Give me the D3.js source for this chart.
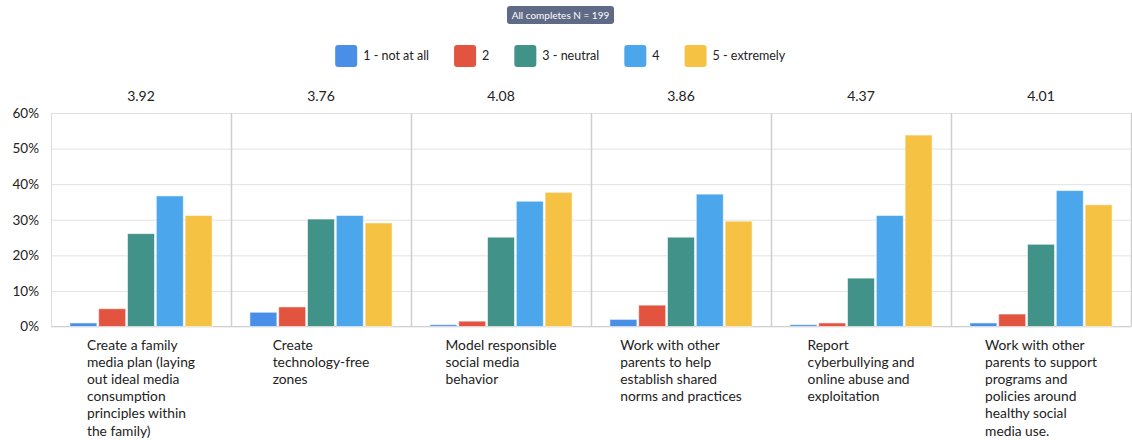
<!DOCTYPE html>
<html>
<head>
<meta charset="utf-8">
<script src="https://cdn.jsdelivr.net/npm/d3@7"></script>
<style>
  body { margin: 0; background: #fff; }
  text { font-family: Lato, "Open Sans", sans-serif; fill: #222; }
</style>
</head>
<body>
<div id="chart"></div>
<script>
// chart data
const categories = [
  "Create a family\nmedia plan (laying\nout ideal media\nconsumption\nprinciples within\nthe family)",
  "Create\ntechnology-free\nzones",
  "Model responsible\nsocial media\nbehavior",
  "Work with other\nparents to help\nestablish shared\nnorms and practices",
  "Report\ncyberbullying and\nonline abuse and\nexploitation",
  "Work with other\nparents to support\nprograms and\npolicies around\nhealthy social\nmedia use."
];
const seriesNames = ["1 - not at all", "2", "3 - neutral", "4", "5 - extremely"];
const seriesColors = ["#4a8fe7", "#e25440", "#41938a", "#4ba6ec", "#f5c243"];
// percent of respondents per category, one array per series
const notAtAll = [1.0, 4.0, 0.5, 2.0, 0.5, 1.0];
const two      = [5.0, 5.5, 1.5, 6.0, 1.0, 3.5];
const neutral  = [26.1, 30.2, 25.1, 25.1, 13.6, 23.1];
const four     = [36.7, 31.2, 35.2, 37.2, 31.2, 38.2];
const extremely = [31.2, 29.1, 37.7, 29.6, 53.8, 34.2];
const means = ["3.92", "3.76", "4.08", "3.86", "4.37", "4.01"];
const yTicks = [0, 10, 20, 30, 40, 50, 60];
const badgeText = "All completes N = 199";

const seriesValues = [notAtAll, two, neutral, four, extremely];

const width = 1132;
const height = 440;
const margin = { top: 113, right: 1, bottom: 113, left: 51 };

const svg = d3.select("#chart").append("svg")
  .attr("width", width)
  .attr("height", height);

const x0 = d3.scaleBand()
  .domain(d3.range(categories.length))
  .range([margin.left, width - margin.right])
  .padding(0);

const x1 = d3.scaleBand()
  .domain(d3.range(seriesNames.length))
  .range([0, x0.bandwidth()])
  .paddingInner(0.0625)
  .paddingOuter(0.656);

const y = d3.scaleLinear()
  .domain([0, 60])
  .range([height - margin.bottom - 0.5, margin.top]);

// gridlines
svg.append("g")
  .attr("transform", `translate(${margin.left},0)`)
  .call(d3.axisLeft(y).tickValues(yTicks).tickSize(-(width - margin.left - margin.right)).tickFormat(""))
  .call(g => g.select(".domain").remove())
  .call(g => g.selectAll("line").attr("stroke", "#e2e2e2"));

// y labels
svg.append("g")
  .attr("transform", `translate(${margin.left - 9},0)`)
  .call(d3.axisLeft(y).tickValues(yTicks).tickSize(0).tickFormat(d => d + "%"))
  .call(g => g.select(".domain").remove())
  .call(g => g.selectAll("text").attr("font-size", 13.5).attr("fill", "#333"));

// group separators
const bounds = categories.map((c, i) => x0(i)).concat([width - margin.right]);
svg.append("g").selectAll("line")
  .data(bounds)
  .enter().append("line")
  .attr("x1", d => Math.round(d) + 0.5)
  .attr("x2", d => Math.round(d) + 0.5)
  .attr("y1", y(60))
  .attr("y2", y(0))
  .attr("stroke", (d, i) => i === 0 ? "#dcdcdc" : "#cfcfcf")
  .attr("stroke-width", (d, i) => i === 0 ? 1 : 1.5);

// baseline
svg.append("line")
  .attr("x1", margin.left)
  .attr("x2", width - margin.right)
  .attr("y1", y(0))
  .attr("y2", y(0))
  .attr("stroke", "#cfcfcf");

// bars
const groups = svg.append("g").selectAll("g")
  .data(categories)
  .enter().append("g")
  .attr("transform", (d, i) => `translate(${x0(i)},0)`);

groups.selectAll("rect")
  .data((d, i) => seriesValues.map((vals, s) => ({ s: s, v: vals[i] })))
  .enter().append("rect")
  .attr("x", d => x1(d.s))
  .attr("width", x1.bandwidth())
  .attr("y", d => y(d.v))
  .attr("height", d => y(0) - y(d.v))
  .attr("fill", d => seriesColors[d.s])
  .attr("stroke", "#fff")
  .attr("stroke-opacity", 0.55)
  .attr("stroke-width", 1);

// means above groups
svg.append("g").selectAll("text")
  .data(means)
  .enter().append("text")
  .attr("x", (d, i) => x0(i) + x0.bandwidth() / 2)
  .attr("y", 101)
  .attr("text-anchor", "middle")
  .attr("font-size", 14)
  .text(d => d);

// category labels, centered block with left-aligned lines
groups.each(function (d, i) {
  const lines = d.split("\n");
  const t = d3.select(this).append("text")
    .attr("font-size", 13.8)
    .attr("fill", "#222");
  lines.forEach((ln, k) => {
    t.append("tspan")
      .attr("x", 0)
      .attr("y", 349.5 + k * 17.2)
      .text(ln);
  });
  const w = t.node().getBBox().width;
  t.attr("transform", `translate(${x0.bandwidth() / 2 - w / 2},0)`);
});

// legend
const legend = svg.append("g");
const items = legend.selectAll("g")
  .data(seriesNames)
  .enter().append("g");
items.append("rect")
  .attr("width", 22)
  .attr("height", 22)
  .attr("rx", 3)
  .attr("y", 45)
  .attr("fill", (d, i) => seriesColors[i]);
items.append("text")
  .attr("x", 28)
  .attr("y", 60)
  .attr("font-size", 12.5)
  .text(d => d);
const gap = 25;
let lx = 0;
items.each(function () {
  const w = this.getBBox().width;
  d3.select(this).attr("transform", `translate(${lx},0)`);
  lx += w + gap;
});
const legendW = lx - gap;
legend.attr("transform", `translate(${560.5 - legendW / 2},0)`);

// badge
const badge = svg.append("g");
badge.append("rect")
  .attr("x", 507)
  .attr("y", 6)
  .attr("width", 107)
  .attr("height", 18)
  .attr("rx", 3)
  .attr("fill", "#5e6a86");
badge.append("text")
  .attr("x", 560.5)
  .attr("y", 18.5)
  .attr("text-anchor", "middle")
  .attr("font-size", 10)
  .style("fill", "#fff")
  .text(badgeText);
</script>
</body>
</html>
